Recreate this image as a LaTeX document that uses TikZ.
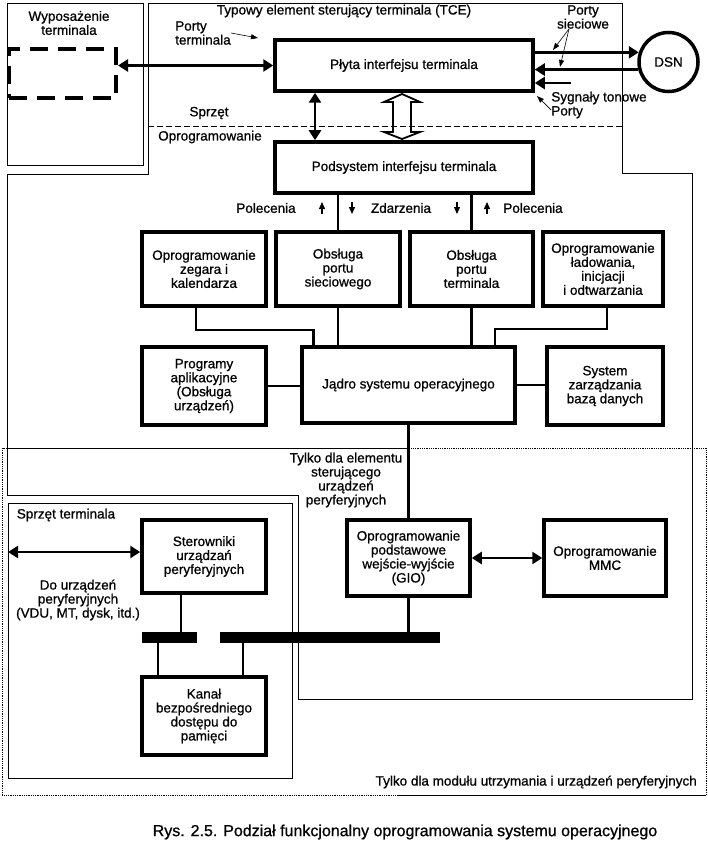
\documentclass[tikz,border=0pt]{standalone}
\usepackage{fontspec}
\setmainfont{Liberation Sans}[FakeBold=0.8]
\usetikzlibrary{arrows.meta}
\newcommand{\lbfont}{\fontsize{13.5}{14}\selectfont}
\tikzset{
  box/.style={draw, line width=3.5pt, align=center, inner sep=1pt, font=\lbfont},
  conn/.style={line width=2.5pt},
  dbl/.style={line width=2.5pt, {Triangle[length=10pt,width=12pt]}-{Triangle[length=10pt,width=12pt]}},
  onearr/.style={line width=2.5pt, -{Triangle[length=10pt,width=12pt]}},
  sarr/.style={line width=1.3pt, -{Triangle[length=7pt,width=6pt]}},
  ptr/.style={line width=0.6pt, -{Triangle[length=7pt,width=5pt]}},
  lbl/.style={font=\lbfont, align=center, inner sep=0pt},
  frame/.style={line width=0.8pt},
  bus/.style={fill, inner sep=0pt},
}

\begin{document}
\begin{tikzpicture}[x=1pt, y=-1pt]
\useasboundingbox (0,0) rectangle (708,845);

% obramowania
\draw[frame] (7,3) rectangle (143,165);
\draw[frame] (148,3) -- (622,3) -- (622,173) -- (692,173) -- (692,699) -- (298,699)
  -- (298,495) -- (7,495) -- (7,174) -- (148,174) -- cycle;
\draw[frame, dash pattern=on 6pt off 3pt] (148,126) -- (622,126);
\draw[frame] (8,503) rectangle (292,778);
\draw[line width=0.8pt, densely dotted] (2,448) rectangle (706,795);
\draw[frame] (7,448) -- (408,448);
\draw[frame] (398,795) -- (706,795);

% bloki
\node[draw, line width=4pt, dash pattern=on 18pt off 10pt, minimum width=107pt, minimum height=49pt] (wyp) at (62.5,73.5) {};
\node[box, minimum width=258pt, minimum height=51pt] (plyta) at (404,65.5) {Płyta interfejsu terminala};
\node[draw, circle, line width=3.5pt, minimum size=59pt, inner sep=0pt, font=\lbfont] (dsn) at (668.5,62) {DSN};
\node[box, minimum width=258pt, minimum height=51pt] (podsys) at (404,167.5) {Podsystem interfejsu terminala};

\node[box, minimum width=124pt, minimum height=74pt] (zegar) at (204,269) {Oprogramowanie\\zegara i\\kalendarza};
\node[box, minimum width=124pt, minimum height=74pt] (siec) at (338,269) {Obsługa\\portu\\sieciowego};
\node[box, minimum width=123pt, minimum height=74pt] (term) at (471.5,269) {Obsługa\\portu\\terminala};
\node[box, minimum width=120pt, minimum height=74pt] (ladow) at (603,269) {Oprogramowanie\\ładowania,\\inicjacji\\i odtwarzania};

\node[box, minimum width=124pt, minimum height=78pt] (aplik) at (204,386) {Programy\\aplikacyjne\\(Obsługa\\urządzeń)};
\node[box, minimum width=213pt, minimum height=76pt] (jadro) at (408.5,385) {Jądro systemu operacyjnego};
\node[box, minimum width=116pt, minimum height=78pt] (baza) at (605,386) {System\\zarządzania\\bazą danych};

\node[box, minimum width=124pt, minimum height=73pt] (sterown) at (204,556.5) {Sterowniki\\urządzań\\peryferyjnych};
\node[box, minimum width=123pt, minimum height=76pt] (gio) at (408.5,558) {Oprogramowanie\\podstawowe\\wejście-wyjście\\(GIO)};
\node[box, minimum width=122pt, minimum height=76pt] (mmc) at (605,558) {Oprogramowanie\\MMC};
\node[box, minimum width=124pt, minimum height=78pt] (kanal) at (204,716) {Kanał\\bezpośredniego\\dostępu do\\pamięci};

\node[bus, minimum width=55pt, minimum height=11pt] (busl) at (169.5,637.5) {};
\node[bus, minimum width=220pt, minimum height=11pt] (busr) at (330,637.5) {};

% napisy
\node[lbl] (tce) at (344,11) {Typowy element sterujący terminala (TCE)};
\node[lbl] (wyplbl) at (69,23) {Wyposażenie\\terminala};
\node[lbl, align=left] (portyt) at (203,33) {Porty\\terminala};
\node[lbl] (portys) at (583,17) {Porty\\sieciowe};
\node[lbl, align=left] (sygn) at (599,105) {Sygnały tonowe\\Porty};
\node[lbl] (sprzet) at (209,113) {Sprzęt};
\node[lbl] (oprog) at (210,137) {Oprogramowanie};
\node[lbl] (pol1) at (266,208) {Polecenia};
\node[lbl] (zdarz) at (401,208) {Zdarzenia};
\node[lbl] (pol2) at (533,208) {Polecenia};
\node[lbl] (tylkoe) at (346,480) {Tylko dla elementu\\sterującego\\urządzeń\\peryferyjnych};
\node[lbl] (sprzett) at (66,515) {Sprzęt terminala};
\node[lbl] (dourz) at (78,600) {Do urządzeń\\peryferyjnych\\(VDU, MT, dysk, itd.)};
\node[lbl, anchor=east] (tylkom) at (697,782) {Tylko dla modułu utrzymania i urządzeń peryferyjnych};
\node[font=\fontsize{16}{18}\selectfont, inner sep=0pt] (rys) at (405,832) {Rys. 2.5. Podział funkcjonalny oprogramowania systemu operacyjnego};

% strzalki
\draw[dbl] (wyp.east |- plyta.west) -- (plyta.west);
\draw[onearr] (plyta.east |- dsn.162) -- (dsn.162);
\draw[onearr] (dsn.194) -- (plyta.east |- dsn.194);
\coordinate (ton) at (571,83);
\draw[onearr] (ton) -- (plyta.east |- ton);

\coordinate (pt1) at (258,38);
\draw[ptr] (portyt.east) -- (pt1);
\coordinate (ps1) at (553,50);
\coordinate (ps2) at (560,67);
\draw[ptr] ([xshift=-14pt]portys.south) -- (ps1);
\draw[ptr] ([xshift=-14pt]portys.south) -- (ps2);
\coordinate (ps3) at (537,96);
\draw[ptr] ([yshift=-5pt]sygn.west) -- (ps3);

\draw[dbl] ([xshift=-89pt]plyta.south) -- ([xshift=-89pt]podsys.north);
\draw[line width=1.8pt] (402,94) -- (420,102) -- (411,102) -- (411,132) -- (420,132) -- (402,139)
  -- (384,132) -- (393,132) -- (393,102) -- (384,102) -- cycle;

\draw[sarr] (322,214) -- (322,202);
\draw[sarr] (352,202) -- (352,214);
\draw[sarr] (457,202) -- (457,214);
\draw[sarr] (487,214) -- (487,202);

% polaczenia
\draw[conn] (siec.north) -- (siec.north |- podsys.south);
\draw[conn] (term.north) -- (term.north |- podsys.south);
\draw[conn] ([xshift=-8pt]zegar.south) -- ++(0,22) -| ([xshift=13pt]jadro.north west);
\draw[conn] (siec.south) -- (siec.south |- jadro.north);
\draw[conn] (term.south) -- (term.south |- jadro.north);
\draw[conn] ([xshift=4pt]ladow.south) -- ++(0,21) -| ([xshift=-22pt]jadro.north east);
\draw[conn] (aplik.east) -- (aplik.east -| jadro.west);
\draw[conn] (jadro.east) -- (jadro.east -| baza.west);
\draw[conn] (jadro.south) -- (gio.north);
\draw[dbl] (gio.east) -- (mmc.west);
\coordinate (dl) at (8,552);
\draw[dbl] (dl) -- (dl -| sterown.west);

\draw[conn] (gio.south) -- (gio.south |- busr.north);
\draw[conn] ([xshift=-23pt]sterown.south) -- ([xshift=-23pt]sterown.south |- busl.north);
\draw[conn] ([xshift=-46pt]kanal.north) -- ([xshift=-46pt]kanal.north |- busl.south);
\draw[conn] ([xshift=39pt]kanal.north) -- ([xshift=39pt]kanal.north |- busr.south);
\end{tikzpicture}
\end{document}
